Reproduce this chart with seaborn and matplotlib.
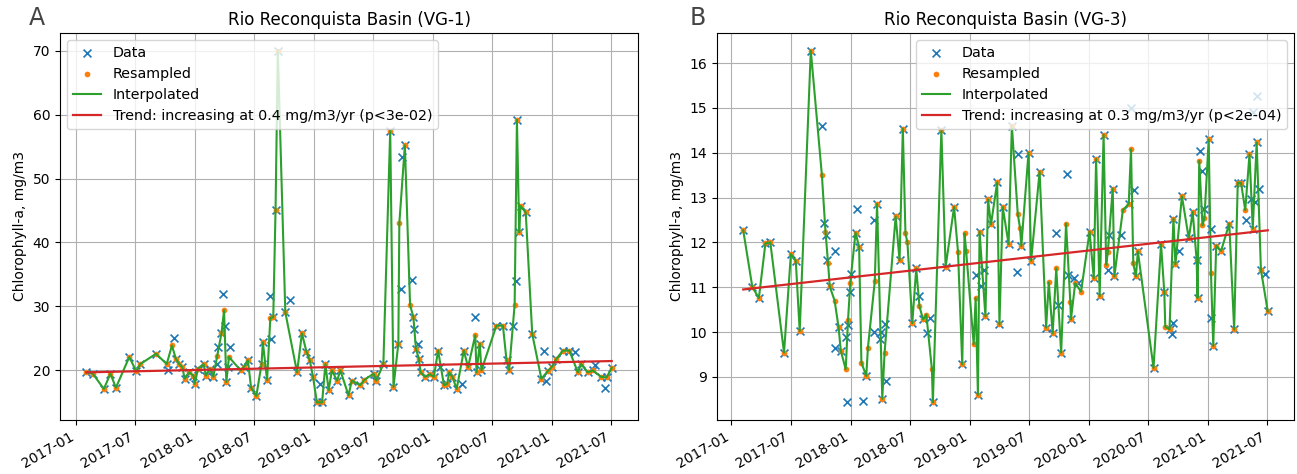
import matplotlib
matplotlib.use("Agg")
import matplotlib.pyplot as plt
import matplotlib.dates as mdates
import pandas as pd
import seaborn as sns

START = pd.Timestamp("2017-01-01")

# Points are (days since 2017-01-01, chlorophyll-a in mg/m3).
# "kept": observations that survive resampling unchanged,
# "raw_only": observations merged into a bin mean,
# "binned": bin means that do not coincide with a single observation.

VG1_KEPT = [
    (31, 19.7), (51, 19.5), (85, 17.1), (105, 19.5), (122, 17.3), (163, 22.1), (184, 19.9),
    (197, 21.0), (245, 22.6), (278, 21.0), (306, 21.8), (316, 21.0), (326, 20.5), (333, 18.7),
    (347, 19.7), (360, 19.2), (364, 17.9), (374, 20.3), (391, 21.0), (398, 19.2), (410, 20.3),
    (421, 19.0), (446, 25.8), (461, 18.2), (505, 20.0), (514, 20.5), (527, 21.6), (537, 17.3),
    (553, 16.0), (569, 21.0), (573, 24.4), (586, 18.5), (605, 28.3), (612, 45.1), (619, 70.0),
    (642, 29.1), (678, 19.7), (693, 25.8), (707, 22.9), (717, 21.6), (727, 19.0), (739, 15.0),
    (755, 15.0), (765, 21.0), (775, 16.9), (785, 20.0), (801, 18.4), (811, 20.0), (836, 16.1),
    (846, 18.4), (872, 17.7), (884, 18.5), (913, 19.5), (921, 18.4), (943, 21.0), (964, 57.5),
    (974, 17.4), (989, 24.2), (1009, 55.2), (1035, 28.4), (1043, 23.4), (1052, 21.8), (1057, 19.7),
    (1071, 19.0), (1086, 19.4), (1098, 19.0), (1111, 23.1), (1129, 17.7), (1139, 17.9), (1145, 19.7),
    (1155, 19.0), (1168, 17.1), (1190, 23.1), (1203, 20.5), (1229, 19.7), (1239, 24.2), (1244, 20.0),
    (1290, 27.0), (1310, 27.0), (1321, 21.6), (1329, 20.0), (1353, 59.2), (1360, 41.6), (1364, 45.7),
    (1380, 44.7), (1400, 25.7), (1428, 18.7), (1448, 19.9), (1461, 20.6), (1474, 21.8), (1494, 23.1),
    (1514, 23.1), (1540, 19.7), (1550, 21.0), (1570, 19.7), (1586, 20.0), (1611, 19.0), (1628, 18.9),
    (1644, 20.4),
]
VG1_RAW_ONLY = [
    (282, 20.1), (301, 25.1), (431, 21.0), (435, 23.6), (452, 31.9), (456, 26.9), (467, 20.6),
    (472, 23.6), (594, 31.6), (599, 24.9), (656, 31.0), (747, 17.8), (997, 32.8), (1000, 53.3),
    (1030, 34.2), (1036, 26.4), (1050, 24.2), (1116, 20.5), (1183, 17.9), (1224, 28.3), (1341, 26.9),
    (1351, 34.0), (1435, 23.0), (1443, 18.4), (1530, 22.9), (1594, 20.8), (1624, 17.3),
]
VG1_BINNED = [
    (294, 23.9), (433, 22.3), (454, 29.4), (469, 22.1), (596, 28.2), (992, 43.0), (1025, 30.2),
    (1225, 25.5), (1346, 30.3),
]
VG1_SLOPE = 0.4      # mg/m3/yr
VG1_TREND_START = 19.7
VG1_P = "3e-02"

VG3_KEPT = [
    (36, 12.27), (64, 11.0), (84, 10.76), (104, 11.98), (119, 12.0), (161, 9.54), (182, 11.74),
    (197, 11.59), (209, 10.02), (243, 16.28), (301, 11.02), (328, 10.11), (335, 9.58), (380, 12.22),
    (391, 11.9), (413, 9.02), (446, 12.86), (462, 8.51), (503, 12.58), (515, 11.6), (525, 14.54),
    (554, 10.2), (566, 11.42), (587, 10.28), (617, 8.43), (643, 14.5), (656, 11.45), (682, 12.79),
    (707, 9.28), (755, 8.6), (760, 12.24), (778, 10.35), (786, 12.96), (795, 12.4), (814, 13.34),
    (821, 10.17), (831, 12.79), (849, 11.96), (859, 14.6), (888, 11.92), (910, 14.0), (918, 11.59),
    (944, 13.58), (964, 10.1), (984, 9.97), (1010, 9.54), (1040, 10.28), (1097, 12.24), (1110, 11.2),
    (1117, 13.86), (1128, 10.8), (1140, 14.4), (1168, 13.2), (1173, 11.24), (1217, 12.86),
    (1239, 11.24), (1245, 11.8), (1293, 9.2), (1316, 11.96), (1326, 10.89), (1342, 10.06),
    (1354, 12.53), (1360, 11.51), (1380, 13.03), (1401, 12.09), (1413, 12.68), (1425, 11.61),
    (1428, 10.76), (1462, 14.3), (1476, 9.69), (1485, 11.93), (1500, 11.81), (1525, 12.42),
    (1540, 10.06), (1551, 13.33), (1561, 13.33), (1587, 13.97), (1597, 12.31), (1609, 14.23),
    (1622, 11.39), (1643, 10.46),
]
VG3_RAW_ONLY = [
    (278, 14.6), (284, 12.44), (291, 12.16), (292, 11.6), (316, 11.8), (318, 9.64), (350, 9.89),
    (354, 8.45), (358, 10.15), (362, 10.9), (367, 11.3), (385, 12.74), (403, 8.47), (436, 12.5),
    (437, 10.0), (454, 9.85), (459, 10.0), (470, 10.17), (474, 8.91), (575, 10.8), (599, 9.97),
    (609, 10.32), (750, 11.28), (765, 11.02), (775, 11.39), (875, 11.33), (879, 13.97), (995, 12.2),
    (1000, 10.6), (1028, 13.53), (1032, 11.28), (1049, 11.2), (1061, 11.1), (1155, 11.39),
    (1158, 12.16), (1194, 12.16), (1224, 15.0), (1234, 13.16), (1350, 9.95), (1352, 10.2),
    (1370, 11.8), (1435, 14.05), (1441, 13.6), (1447, 12.75), (1469, 12.31), (1470, 10.32),
    (1576, 12.51), (1592, 12.97), (1597, 14.91), (1605, 12.9), (1609, 15.27), (1615, 13.2),
    (1633, 11.3),
]
VG3_BINNED = [
    (277, 13.5), (288, 12.24), (296, 11.53), (316, 10.7), (350, 9.17), (357, 10.26), (364, 11.09),
    (398, 9.32), (418, 9.65), (439, 11.13), (469, 9.54), (533, 12.2), (539, 12.0), (576, 10.57),
    (597, 10.39), (614, 9.17), (694, 11.79), (714, 12.2), (719, 11.8), (742, 9.73), (748, 10.76),
    (877, 12.64), (884, 12.32), (972, 11.11), (995, 11.42), (1025, 12.42), (1038, 10.68),
    (1053, 11.09), (1071, 10.9), (1148, 11.5), (1153, 11.79), (1199, 12.72), (1224, 14.08),
    (1231, 11.53), (1329, 10.12), (1433, 13.82), (1443, 12.38), (1449, 12.55), (1469, 11.31),
    (1574, 12.72),
]
VG3_SLOPE = 0.3      # mg/m3/yr
VG3_TREND_START = 10.95
VG3_P = "2e-04"


def to_frame(points):
    days, values = zip(*points)
    frame = pd.DataFrame({
        "date": START + pd.to_timedelta(list(days), unit="D"),
        "value": list(values),
    })
    return frame.sort_values("date").reset_index(drop=True)


def draw_station(ax, kept, raw_only, binned, slope, trend_start, p_text, title, legend_loc):
    data = to_frame(kept + raw_only)
    resampled = to_frame(kept + binned)

    sns.scatterplot(data=data, x="date", y="value", marker="x", color="C0",
                    s=32, linewidth=1.2, label="Data", ax=ax, zorder=2)
    sns.scatterplot(data=resampled, x="date", y="value", color="C1",
                    s=17, linewidth=0, label="Resampled", ax=ax, zorder=3)
    sns.lineplot(data=resampled, x="date", y="value", color="C2", linewidth=1.5,
                 estimator=None, label="Interpolated", ax=ax, zorder=4)

    years = (resampled["date"] - resampled["date"].iloc[0]).dt.days / 365.25
    trend = pd.DataFrame({"date": resampled["date"], "value": trend_start + slope * years})
    sns.lineplot(data=trend, x="date", y="value", color="C3", linewidth=1.6,
                 estimator=None,
                 label=f"Trend: increasing at {slope} mg/m3/yr (p<{p_text})",
                 ax=ax, zorder=5)

    ax.set_title(title, fontsize=12)
    ax.set_xlabel("")
    ax.set_ylabel("Chlorophyll-a, mg/m3", fontsize=10)
    ax.grid(True, color="#b0b0b0", linewidth=0.8)
    ax.set_axisbelow(True)
    ax.xaxis.set_major_locator(mdates.MonthLocator(bymonth=[1, 7]))
    ax.xaxis.set_major_formatter(mdates.DateFormatter("%Y-%m"))
    plt.setp(ax.get_xticklabels(), rotation=30, ha="right")
    ax.legend(loc=legend_loc, fontsize=10.25)


fig = plt.figure(figsize=(12.97, 4.74), dpi=100)
W, H = 1297, 474
ax_a = fig.add_axes([60 / W, 1 - 420 / H, 578 / W, 387 / H])
ax_b = fig.add_axes([717 / W, 1 - 420 / H, 577 / W, 387 / H])

draw_station(ax_a, VG1_KEPT, VG1_RAW_ONLY, VG1_BINNED, VG1_SLOPE, VG1_TREND_START, VG1_P,
             "Rio Reconquista Basin (VG-1)", "upper left")
draw_station(ax_b, VG3_KEPT, VG3_RAW_ONLY, VG3_BINNED, VG3_SLOPE, VG3_TREND_START, VG3_P,
             "Rio Reconquista Basin (VG-3)", "upper right")

fig.text(37 / W, 1 - 18 / H, "A", fontsize=17, color="#444444", ha="center", va="center")
fig.text(698 / W, 1 - 18 / H, "B", fontsize=17, color="#444444", ha="center", va="center")

fig.savefig("out.png", dpi=100)
